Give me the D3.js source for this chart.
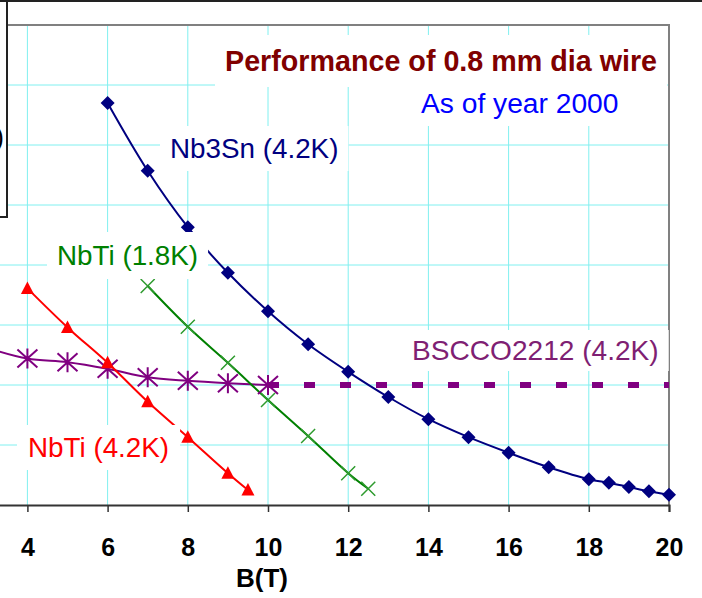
<!DOCTYPE html>
<html>
<head>
<meta charset="utf-8">
<script src="https://cdn.jsdelivr.net/npm/d3@7"></script>
<style>
  body { margin: 0; background: #fff; }
  text { font-family: "Liberation Sans", Arial, sans-serif; }
  .gridline { stroke: #80f0f0; stroke-width: 1; }
  .tick text { font-size: 25px; font-weight: bold; fill: #000; }
</style>
</head>
<body>
<div id="plot"></div>
<script>
const CANVAS_WIDTH   = 702;
const CANVAS_HEIGHT  = 598;

const PLOT_LEFT      = -133;   // the chart is cropped: its left part is off the picture
const PLOT_RIGHT     = 669;
const PLOT_TOP       = 25;
const PLOT_BOTTOM    = 505;

// magnetic field B (T) and critical current (arbitrary units)
const B_NB3SN      = [6, 7, 8, 9, 10, 11, 12, 13, 14, 15, 16, 17, 18, 18.5, 19, 19.5, 20];
const IC_NB3SN     = [670, 557, 463, 387, 323, 268, 222, 180, 143, 113, 87, 63, 43, 37, 30, 23, 17];

const B_NBTI_18    = [7, 8, 9, 10, 11, 12, 12.5];
const IC_NBTI_18   = [365, 297, 237, 175, 115, 53, 27];

const B_NBTI_42    = [4, 5, 6, 7, 8, 9, 9.5];
const IC_NBTI_42   = [361, 296, 237, 172, 113, 53, 25];

const B_BSCCO      = [3, 4, 5, 6, 7, 8, 9, 10];
const IC_BSCCO     = [262, 244, 238, 227, 213, 207, 203, 200];

const B_BSCCO_EXT  = [10, 20];
const IC_BSCCO_EXT = [200, 200];

const X_GRIDLINES  = [2, 4, 6, 8, 10, 12, 14, 16, 18];
const X_TICKS      = [4, 6, 8, 10, 12, 14, 16, 18, 20];
const Y_GRIDLINES  = [100, 200, 300, 400, 500, 600, 700];

var svg, xScale, yScale;

function zip(xs, ys) {
    return xs.map((x, i) => [x, ys[i]]);
}

function drawSeries(points, color, width, dash) {
    var line = d3.line()
                 .x(d => xScale(d[0]))
                 .y(d => yScale(d[1]))
                 .curve(d3.curveCatmullRom.alpha(0.5));
    svg.append("path")
       .attr("d", line(points))
       .attr("fill", "none")
       .attr("stroke", color)
       .attr("stroke-width", width)
       .attr("stroke-dasharray", dash || null);
}

function drawMarkers(points, shape, color) {
    var g = svg.append("g");
    points.forEach(function(p) {
        var cx = xScale(p[0]), cy = yScale(p[1]);
        if (shape == "diamond") {
            g.append("path")
             .attr("d", `M${cx},${cy-7}L${cx+7},${cy}L${cx},${cy+7}L${cx-7},${cy}Z`)
             .attr("fill", color);
        } else if (shape == "triangle") {
            g.append("path")
             .attr("d", `M${cx},${cy-7}L${cx+6.5},${cy+5.5}L${cx-6.5},${cy+5.5}Z`)
             .attr("fill", color);
        } else if (shape == "cross") {
            g.append("path")
             .attr("d", `M${cx-7},${cy-7}L${cx+7},${cy+7}M${cx-7},${cy+7}L${cx+7},${cy-7}`)
             .attr("stroke", color)
             .attr("stroke-width", 1.5);
        } else if (shape == "star") {
            g.append("path")
             .attr("d", `M${cx},${cy-10}L${cx},${cy+10}M${cx-10},${cy-9}L${cx+10},${cy+9}M${cx-10},${cy+9}L${cx+10},${cy-9}`)
             .attr("stroke", color)
             .attr("stroke-width", 2);
        }
    });
}

// text with a white box behind it, like the Excel text boxes
function addLabel(str, x, y, color, size, weight, padX, padY) {
    var g = svg.append("g");
    var rect = g.append("rect").attr("fill", "#fff");
    var t = g.append("text")
             .attr("x", x)
             .attr("y", y)
             .attr("fill", color)
             .attr("font-size", size)
             .attr("font-weight", weight || "normal")
             .text(str);
    var bb = t.node().getBBox();
    rect.attr("x", bb.x - padX)
        .attr("y", bb.y - padY)
        .attr("width", bb.width + 2 * padX)
        .attr("height", bb.height + 2 * padY);
}

svg = d3.select("#plot")
        .append("svg")
        .attr("width", CANVAS_WIDTH)
        .attr("height", CANVAS_HEIGHT);

xScale = d3.scaleLinear()
           .domain([0, 20])
           .range([PLOT_LEFT, PLOT_RIGHT]);
yScale = d3.scaleLinear()
           .domain([0, 800])
           .range([PLOT_BOTTOM, PLOT_TOP]);

// gridlines
X_GRIDLINES.forEach(function(b) {
    svg.append("line")
       .attr("class", "gridline")
       .attr("x1", xScale(b)).attr("x2", xScale(b))
       .attr("y1", PLOT_TOP).attr("y2", PLOT_BOTTOM);
});
Y_GRIDLINES.forEach(function(v) {
    svg.append("line")
       .attr("class", "gridline")
       .attr("x1", PLOT_LEFT).attr("x2", PLOT_RIGHT)
       .attr("y1", yScale(v)).attr("y2", yScale(v));
});

// plot frame (top and right)
svg.append("path")
   .attr("d", `M${PLOT_LEFT},${PLOT_TOP}H${PLOT_RIGHT}V${PLOT_BOTTOM}`)
   .attr("fill", "none")
   .attr("stroke", "#808080")
   .attr("stroke-width", 2);

// series
drawSeries(zip(B_BSCCO_EXT, IC_BSCCO_EXT), "#800080", 6, "11,25");
drawSeries(zip(B_BSCCO, IC_BSCCO), "#800080", 2);
drawSeries(zip(B_NBTI_42, IC_NBTI_42), "#ff0000", 2);
drawSeries(zip(B_NBTI_18, IC_NBTI_18), "#008000", 2);
drawSeries(zip(B_NB3SN, IC_NB3SN), "#000080", 2);

drawMarkers(zip(B_BSCCO, IC_BSCCO), "star", "#800080");
drawMarkers(zip(B_NBTI_42, IC_NBTI_42), "triangle", "#ff0000");
drawMarkers(zip(B_NBTI_18, IC_NBTI_18), "cross", "#2e9b2e");
drawMarkers(zip(B_NB3SN, IC_NB3SN), "diamond", "#000080");

// x axis
var xAxis = d3.axisBottom(xScale)
              .tickValues(X_TICKS)
              .tickSize(7)
              .tickPadding(26);
var axisG = svg.append("g")
               .attr("transform", `translate(0,${PLOT_BOTTOM})`)
               .call(xAxis);
axisG.select(".domain").attr("stroke", "#333").attr("stroke-width", 2);
axisG.selectAll(".tick line").attr("stroke", "#333").attr("stroke-width", 1.5);
axisG.selectAll(".tick text").attr("font-family", "'Liberation Sans', Arial, sans-serif");

svg.append("text")
   .attr("x", 262)
   .attr("y", 587)
   .attr("text-anchor", "middle")
   .attr("font-size", 26)
   .attr("font-weight", "bold")
   .text("B(T)");

// labels
addLabel("Performance of 0.8 mm dia wire", 225, 71, "#800000", 28.7, "bold", 10, 10);
addLabel("As of year 2000", 421, 113, "#0000ff", 28.2, "normal", 11, 7);
addLabel("Nb3Sn (4.2K)", 170, 158, "#000080", 27.8, "normal", 10, 7);
addLabel("NbTi (1.8K)", 57, 265, "#008000", 27.8, "normal", 10, 8);
addLabel("BSCCO2212 (4.2K)", 412, 360, "#7f1f73", 28.1, "normal", 10, 5);
addLabel("NbTi (4.2K)", 28, 457, "#ff0000", 27.8, "normal", 11, 7);

// boxed y axis title, mostly cropped away on the left
svg.append("rect")
   .attr("x", -200).attr("y", -5)
   .attr("width", 207).attr("height", 222)
   .attr("fill", "#fff")
   .attr("stroke", "#222")
   .attr("stroke-width", 2);
svg.append("text")
   .attr("x", 4)
   .attr("y", 146)
   .attr("text-anchor", "end")
   .attr("font-size", 27)
   .text("Ic (A)");

// outer chart border along the top
svg.append("line")
   .attr("x1", 0).attr("x2", CANVAS_WIDTH)
   .attr("y1", 1).attr("y2", 1)
   .attr("stroke", "#222")
   .attr("stroke-width", 2);
</script>
</body>
</html>
